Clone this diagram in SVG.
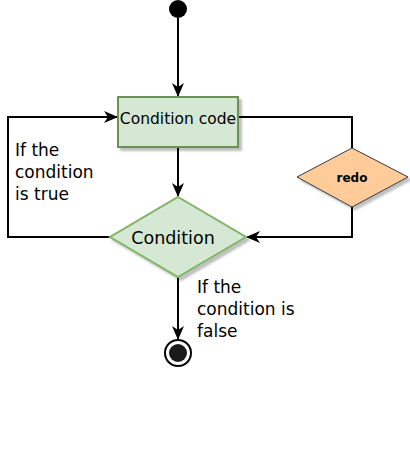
<svg xmlns="http://www.w3.org/2000/svg" width="410" height="462" viewBox="0 0 410 462">
<style>
.edge{fill:none;stroke:#000;stroke-width:2}
.lbl{font-family:"DejaVu Sans",sans-serif;font-size:17px;fill:#000}
.green{fill:#d5e8d4;stroke:#6d8f58;stroke-width:2}
</style>
<defs>
<marker id="arr" viewBox="0 0 14 12" refX="13" refY="6" markerWidth="14" markerHeight="12" markerUnits="userSpaceOnUse" orient="auto">
<path d="M0,0 L14,6 L0,12 L4,6 Z" fill="#000"/>
</marker>
<filter id="sh" x="-10%" y="-10%" width="130%" height="130%">
<feDropShadow dx="3" dy="3" stdDeviation="1" flood-color="#000" flood-opacity="0.25"/>
</filter>
</defs>
<rect width="410" height="462" fill="#fff"/>
<g id="connectors">
<path class="edge" d="M178,18 V96" marker-end="url(#arr)"/>
<path class="edge" d="M178,147 V196" marker-end="url(#arr)"/>
<path class="edge" d="M110,237 H8 V117 H117" marker-end="url(#arr)"/>
<path class="edge" d="M238,117 H352 V148"/>
<path class="edge" d="M352,207 V237 H247" marker-end="url(#arr)"/>
<path class="edge" d="M178,277 V339" marker-end="url(#arr)"/>
</g>
<g id="start"><circle cx="178" cy="9" r="9" fill="#000"/></g>
<g id="condition-code">
<rect class="green" x="118" y="97" width="120" height="50" filter="url(#sh)"/>
<text x="178" y="124" text-anchor="middle" font-family="DejaVu Sans,sans-serif" font-size="15.5">Condition code</text>
</g>
<g id="condition">
<path class="green" d="M178,197 L246,237 L178,277 L110,237 Z" filter="url(#sh)" style="stroke:#82b366"/>
<text x="173" y="244" text-anchor="middle" font-family="DejaVu Sans,sans-serif" font-size="17.5">Condition</text>
</g>
<g id="redo">
<path d="M352,148 L408,177 L352,207 L297,177 Z" fill="#ffcc99" stroke="#36393d" stroke-width="1" filter="url(#sh)"/>
<text x="352" y="182" text-anchor="middle" font-family="DejaVu Sans,sans-serif" font-size="12" font-weight="bold">redo</text>
</g>
<g id="end">
<circle cx="178" cy="353" r="13" fill="#fff" stroke="#000" stroke-width="2"/>
<circle cx="178" cy="353" r="9" fill="#1a1a1a"/>
</g>
<g id="labels">
<text class="lbl" x="15"><tspan x="15" y="156">If the</tspan><tspan x="15" y="178">condition</tspan><tspan x="15" y="200">is true</tspan></text>
<text class="lbl"><tspan x="197" y="293">If the</tspan><tspan x="197" y="315">condition is</tspan><tspan x="197" y="337">false</tspan></text>
</g>
</svg>
